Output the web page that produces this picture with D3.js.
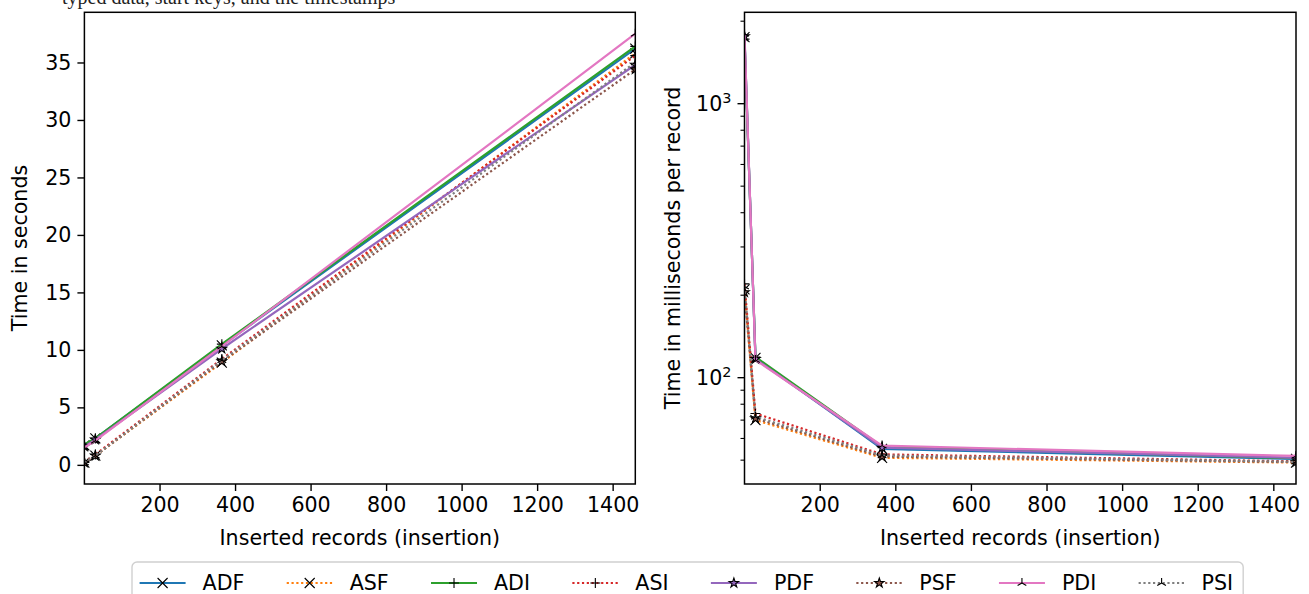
<!DOCTYPE html>
<html>
<head>
<meta charset="utf-8">
<script src="https://cdn.jsdelivr.net/npm/d3@7"></script>
<style>
  body { margin: 0; background: #fff; }
  svg { display: block; }
  text { font-family: "DejaVu Sans", sans-serif; fill: #000; }
</style>
</head>
<body>
<div id="chart"></div>
<script>
// records inserted (x values, same for both panels)
const insertedRecords = [1, 30, 365, 1460];
const seriesNames = ["ADF", "ASF", "ADI", "ASI", "PDF", "PSF", "PDI", "PSI"];

// total time in seconds, one row per series (left panel)
const secondsTotal = [
    [1.7, 2.3, 10.4, 36.2],
    [0.2, 0.8, 8.9, 35.8],
    [1.8, 2.3, 10.5, 36.4],
    [0.2, 0.9, 9.2, 35.6],
    [1.6, 2.2, 10.1, 34.8],
    [0.2, 0.8, 9.0, 34.4],
    [1.5, 2.1, 10.3, 37.5],
    [0.2, 0.8, 9.1, 35.0]
];

// milliseconds per record, one row per series (right panel)
const msPerRecord = [
    [1750, 118, 55, 50.5],
    [210, 70, 51, 49],
    [1720, 119, 56, 50.8],
    [220, 74, 52.5, 49.5],
    [1760, 117, 55.5, 51],
    [205, 71, 51.5, 49.2],
    [1800, 116, 56.5, 51.8],
    [215, 72, 52, 49.3]
];

const xTicks = [200, 400, 600, 800, 1000, 1200, 1400];
const secondsTicks = [0, 5, 10, 15, 20, 25, 30, 35];

// styles
const colors = ["#1f77b4", "#ff7f0e", "#2ca02c", "#d62728", "#9467bd", "#8c564b", "#e377c2", "#7f7f7f"];
const dotted = [false, true, false, true, false, true, false, true];
const markers = ["x", "x", "+", "+", "star", "star", "tri", "tri"];

const width = 1309, height = 594;
const fontSize = 20.6;

let svg = d3.select("#chart").append("svg")
    .attr("width", width)
    .attr("height", height);

// caption of the page above, mostly cut off like in the source picture
svg.append("text")
    .attr("x", 62).attr("y", 4)
    .style("font-family", "'Liberation Serif', serif")
    .style("font-size", "20px")
    .style("fill", "#222")
    .text("typed data, start keys, and the timestamps");

function markerPath(type, s) {
    let h = s / 2;
    if (type == "x") return `M${-h},${-h}L${h},${h}M${-h},${h}L${h},${-h}`;
    if (type == "+") return `M${-h},0L${h},0M0,${-h}L0,${h}`;
    if (type == "tri") {
        let a = h * 0.87;
        return `M0,0L0,${-h}M0,0L${-a},${h * 0.5}M0,0L${a},${h * 0.5}`;
    }
    return d3.symbol(d3.symbolStar, s * s * 0.28)();
}

function drawMarker(g, type, color, cx, cy) {
    g.append("path")
        .attr("transform", `translate(${cx},${cy})`)
        .attr("d", markerPath(type, 10))
        .attr("fill", type == "star" ? color : "none")
        .attr("stroke", "#000")
        .attr("stroke-width", 1.1);
}

function panel(opts) {
    let { left, right, top, bottom, values, yScale, id } = opts;

    let x = d3.scaleLinear()
        .domain(d3.extent(insertedRecords))
        .range([left, right]);
    let y = yScale.range([bottom, top]);

    svg.append("clipPath").attr("id", id)
        .append("rect")
        .attr("x", left).attr("y", top)
        .attr("width", right - left).attr("height", bottom - top);

    let plot = svg.append("g").attr("clip-path", `url(#${id})`);

    let line = d3.line()
        .x((d, i) => x(insertedRecords[i]))
        .y(d => y(d));

    values.forEach((row, s) => {
        plot.append("path")
            .attr("d", line(row))
            .attr("fill", "none")
            .attr("stroke", colors[s])
            .attr("stroke-width", 2.2)
            .attr("stroke-dasharray", dotted[s] ? "2.2,2.6" : null);
        row.forEach((v, i) => drawMarker(plot, markers[s], colors[s], x(insertedRecords[i]), y(v)));
    });

    // x axis
    let xAxis = svg.append("g")
        .attr("transform", `translate(0,${bottom})`)
        .call(d3.axisBottom(x).tickValues(xTicks).tickFormat(d3.format("d")).tickSize(7).tickPadding(6));
    xAxis.select(".domain").remove();
    xAxis.selectAll("line").attr("stroke", "#000").attr("stroke-width", 1.4);
    xAxis.selectAll("text").style("font-size", fontSize + "px").attr("font-family", null);

    // frame
    svg.append("rect")
        .attr("x", left).attr("y", top)
        .attr("width", right - left).attr("height", bottom - top)
        .attr("fill", "none")
        .attr("stroke", "#000")
        .attr("stroke-width", 1.5);

    svg.append("text")
        .attr("x", (left + right) / 2)
        .attr("y", 545)
        .attr("text-anchor", "middle")
        .style("font-size", fontSize + "px")
        .text("Inserted records (insertion)");

    return { x, y };
}

// left panel: linear seconds
let secAll = secondsTotal.flat();
let secExt = d3.extent(secAll);
let secPad = (secExt[1] - secExt[0]) * 0.05;
let left = panel({
    id: "clipLeft", left: 84.4, right: 635.3, top: 12.3, bottom: 484,
    values: secondsTotal,
    yScale: d3.scaleLinear().domain([secExt[0] - secPad, secExt[1] + secPad])
});

let yAxisL = svg.append("g")
    .attr("transform", "translate(84.4,0)")
    .call(d3.axisLeft(left.y).tickValues(secondsTicks).tickSize(7).tickPadding(6));
yAxisL.select(".domain").remove();
yAxisL.selectAll("line").attr("stroke", "#000").attr("stroke-width", 1.4);
yAxisL.selectAll("text").style("font-size", fontSize + "px").attr("font-family", null);

svg.append("text")
    .attr("transform", "translate(27,248) rotate(-90)")
    .attr("text-anchor", "middle")
    .style("font-size", fontSize + "px")
    .text("Time in seconds");

// right panel: log ms per record
let msAll = msPerRecord.flat();
let lgMin = Math.log10(d3.min(msAll)), lgMax = Math.log10(d3.max(msAll));
let lgPad = (lgMax - lgMin) * 0.05;
let right = panel({
    id: "clipRight", left: 744.5, right: 1296, top: 12.3, bottom: 484,
    values: msPerRecord,
    yScale: d3.scaleLog().domain([Math.pow(10, lgMin - lgPad), Math.pow(10, lgMax + lgPad)])
});

let [lo, hi] = right.y.domain();
let minorTicks = [];
for (let dec = 10; dec <= 1000; dec *= 10) {
    for (let k = 2; k <= 9; k++) {
        let v = dec * k;
        if (v >= lo && v <= hi) minorTicks.push(v);
    }
}
let majorTicks = [100, 1000].filter(v => v >= lo && v <= hi);

let yAxisR = svg.append("g").attr("transform", "translate(744.5,0)");
yAxisR.selectAll(".minor")
    .data(minorTicks)
    .join("line")
    .attr("x1", -4).attr("x2", 0)
    .attr("y1", d => right.y(d)).attr("y2", d => right.y(d))
    .attr("stroke", "#000").attr("stroke-width", 1.1);
yAxisR.selectAll(".major")
    .data(majorTicks)
    .join("line")
    .attr("x1", -7).attr("x2", 0)
    .attr("y1", d => right.y(d)).attr("y2", d => right.y(d))
    .attr("stroke", "#000").attr("stroke-width", 1.4);
let majorLabels = yAxisR.selectAll(".lbl")
    .data(majorTicks)
    .join("text")
    .attr("x", -13)
    .attr("y", d => right.y(d))
    .attr("dy", "0.35em")
    .attr("text-anchor", "end")
    .style("font-size", fontSize + "px");
majorLabels.append("tspan").text("10");
majorLabels.append("tspan")
    .attr("dy", "-0.55em")
    .style("font-size", (fontSize * 0.7) + "px")
    .text(d => Math.round(Math.log10(d)));

svg.append("text")
    .attr("transform", "translate(680,248) rotate(-90)")
    .attr("text-anchor", "middle")
    .style("font-size", fontSize + "px")
    .text("Time in milliseconds per record");

// legend
let legend = svg.append("g");
let legendBox = legend.append("rect")
    .attr("x", 132).attr("y", 562)
    .attr("rx", 5)
    .attr("height", 42)
    .attr("fill", "#fff")
    .attr("stroke", "#d0d0d0")
    .attr("stroke-width", 1.4);

let cx = 139.6;
const legendY = 583;
const colSpacing = 42.3;
seriesNames.forEach((name, s) => {
    legend.append("line")
        .attr("x1", cx).attr("x2", cx + 46)
        .attr("y1", legendY).attr("y2", legendY)
        .attr("stroke", colors[s])
        .attr("stroke-width", 2.2)
        .attr("stroke-dasharray", dotted[s] ? "2.2,2.6" : null);
    drawMarker(legend, markers[s], colors[s], cx + 23, legendY);
    let t = legend.append("text")
        .attr("x", cx + 63)
        .attr("y", legendY)
        .attr("dy", "0.35em")
        .style("font-size", fontSize + "px")
        .text(name);
    let w = t.node().getComputedTextLength();
    cx = cx + 63 + w + colSpacing;
});
legendBox.attr("width", cx - colSpacing + 10 - 132);
</script>
</body>
</html>
